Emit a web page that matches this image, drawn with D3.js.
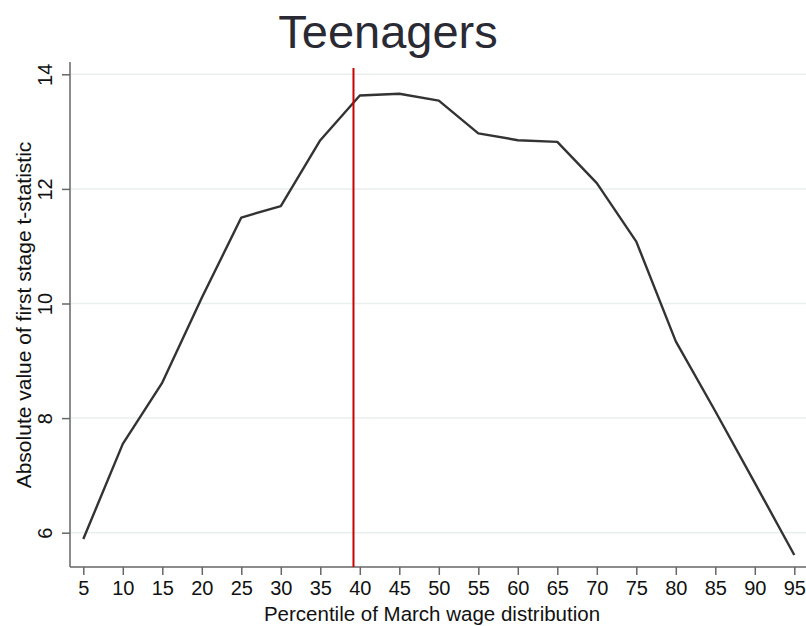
<!DOCTYPE html>
<html>
<head>
<meta charset="utf-8">
<script src="https://cdn.jsdelivr.net/npm/d3@7"></script>
<style>
  html, body { margin: 0; padding: 0; background: #fff; }
  svg { display: block; }
  text { font-family: "Liberation Sans", Arial, Helvetica, sans-serif; }
</style>
</head>
<body>
<svg id="chart" width="806" height="626"></svg>
<script>
// ---- data ----
const percentiles = [5, 10, 15, 20, 25, 30, 35, 40, 45, 50, 55, 60, 65, 70, 75, 80, 85, 90, 95];
const tStat = [5.89, 7.55, 8.62, 10.1, 11.5, 11.7, 12.85, 13.63, 13.66, 13.54, 12.97, 12.85, 12.82, 12.1, 11.08, 9.34, 8.12, 6.87, 5.61];
const xTicks = [5, 10, 15, 20, 25, 30, 35, 40, 45, 50, 55, 60, 65, 70, 75, 80, 85, 90, 95];
const yTicks = [6, 8, 10, 12, 14];
const cutoff = 39.2;
const title = "Teenagers";
const xTitle = "Percentile of March wage distribution";
const yTitle = "Absolute value of first stage t-statistic";

// ---- layout ----
const svg = d3.select("#chart");
const plotLeft = 70, plotRight = 806, plotTop = 62, plotBottom = 567;

const x = d3.scaleLinear().domain([5, 95]).range([83.3, 794.3]);
const y = d3.scaleLinear().domain([6, 14]).range([532.7, 74.3]);

// gridlines
svg.append("g").selectAll("line").data(yTicks).join("line")
  .attr("x1", plotLeft).attr("x2", plotRight)
  .attr("y1", d => y(d)).attr("y2", d => y(d))
  .attr("stroke", "#e9efee").attr("stroke-width", 1.5);

// x axis
const xAxis = svg.append("g").attr("transform", `translate(0,${plotBottom})`)
  .call(d3.axisBottom(x).tickValues(xTicks).tickSize(8).tickSizeOuter(0).tickPadding(6));
xAxis.select(".domain").remove();
xAxis.selectAll(".tick line").attr("stroke", "#666").attr("stroke-width", 1.5);
xAxis.selectAll(".tick text").attr("font-size", 20).attr("fill", "#111")
  .attr("font-family", "Liberation Sans, Arial, sans-serif");
svg.append("line").attr("x1", plotLeft).attr("x2", plotRight).attr("y1", plotBottom).attr("y2", plotBottom)
  .attr("stroke", "#666").attr("stroke-width", 1.5);

// y axis
const yAxis = svg.append("g").attr("transform", `translate(${plotLeft},0)`)
  .call(d3.axisLeft(y).tickValues(yTicks).tickSize(8).tickSizeOuter(0));
yAxis.select(".domain").remove();
yAxis.selectAll(".tick line").attr("stroke", "#666").attr("stroke-width", 1.5);
yAxis.selectAll(".tick text")
  .attr("font-size", 20).attr("fill", "#111")
  .attr("font-family", "Liberation Sans, Arial, sans-serif")
  .attr("text-anchor", "middle")
  .attr("dy", null).attr("x", null)
  .attr("transform", "translate(-18,0) rotate(-90)");
svg.append("line").attr("x1", plotLeft).attr("x2", plotLeft).attr("y1", plotTop).attr("y2", plotBottom)
  .attr("stroke", "#666").attr("stroke-width", 1.5);

// data line
svg.append("path")
  .datum(percentiles.map((p, i) => [p, tStat[i]]))
  .attr("fill", "none").attr("stroke", "#333").attr("stroke-width", 2.4)
  .attr("stroke-linejoin", "round")
  .attr("d", d3.line().x(d => x(d[0])).y(d => y(d[1])));

// cutoff line
svg.append("line")
  .attr("x1", x(cutoff)).attr("x2", x(cutoff))
  .attr("y1", 68).attr("y2", plotBottom)
  .attr("stroke", "#cc0000").attr("stroke-width", 2);

// titles
svg.append("text").attr("x", 388).attr("y", 47.5).attr("text-anchor", "middle")
  .attr("font-size", 47).attr("fill", "#2a2a35").text(title);
svg.append("text").attr("x", 432).attr("y", 621).attr("text-anchor", "middle")
  .attr("font-size", 20.5).attr("fill", "#111").text(xTitle);
svg.append("text").attr("transform", "translate(31,315) rotate(-90)").attr("text-anchor", "middle")
  .attr("font-size", 21).attr("fill", "#111").text(yTitle);
</script>
</body>
</html>
